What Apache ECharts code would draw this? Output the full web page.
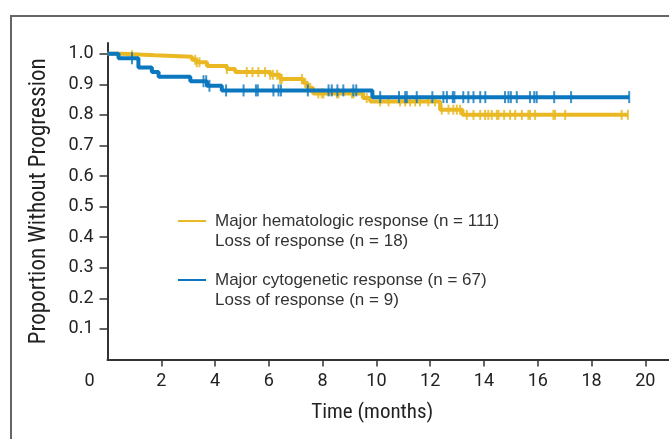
<!DOCTYPE html>
<html>
<head>
<meta charset="utf-8">
<script src="https://cdn.jsdelivr.net/npm/echarts@6/dist/echarts.min.js"></script>
<style>
html,body{margin:0;padding:0;background:#fff;}
#chart{width:669px;height:439px;}
</style>
</head>
<body>
<div id="chart"></div>
<script>
// Major hematologic response (n = 111): KM step curve
const hemaTimes = [0, 0.55, 1.77, 3.14, 3.32, 3.7, 4.44, 4.75, 6.05, 6.42, 7.27, 7.43, 7.65, 9.5, 9.77, 12.37, 13.2, 19.36];
const hemaProps = [1.0, 0.995, 0.99, 0.98, 0.972, 0.96, 0.95, 0.94, 0.931, 0.917, 0.905, 0.888, 0.87, 0.855, 0.844, 0.817, 0.80, 0.80];
const hemaCensor = [0.91, 3.26, 3.32, 3.42, 4.44, 5.18, 5.39, 5.61, 5.86, 6.05, 6.15, 6.31, 6.42, 6.48, 7.23, 7.35, 7.54, 7.84, 7.97, 8.03, 8.53, 8.59, 9.09, 9.15, 9.64, 10.14, 10.45, 10.88, 11.07, 11.25, 11.44, 11.62, 11.93, 12.18, 12.43, 12.68, 12.86, 12.99, 13.11, 13.36, 13.61, 13.86, 14.04, 14.16, 14.29, 14.48, 14.54, 14.75, 14.97, 15.16, 15.41, 15.65, 15.71, 15.9, 16.58, 16.64, 17.02, 19.12, 19.35];

// Major cytogenetic response (n = 67)
const cytoTimes = [0, 0.41, 1.15, 1.65, 1.9, 3.08, 3.7, 4.25, 9.85, 19.4];
const cytoProps = [1.0, 0.985, 0.955, 0.94, 0.925, 0.91, 0.895, 0.88, 0.858, 0.858];
const cytoCensor = [0.91, 3.57, 3.67, 3.79, 4.41, 5.06, 5.52, 5.59, 6.17, 6.36, 6.45, 7.45, 8.22, 8.34, 8.55, 8.77, 9.14, 9.25, 10.14, 10.84, 11.07, 11.13, 11.5, 12.08, 12.49, 12.62, 12.84, 12.9, 13.23, 13.42, 13.61, 13.86, 14.05, 14.78, 14.91, 15.0, 15.22, 15.71, 15.87, 15.96, 16.61, 17.24, 19.4];

const xTicks = [0, 2, 4, 6, 8, 10, 12, 14, 16, 18, 20];
const yTicks = [0.1, 0.2, 0.3, 0.4, 0.5, 0.6, 0.7, 0.8, 0.9, 1.0];

const legendLines = [
  ['Major hematologic response (n = 111)', 'Loss of response (n = 18)'],
  ['Major cytogenetic response (n = 67)', 'Loss of response (n = 9)']
];

const YELLOW = '#E9B823';
const BLUE = '#0A77BE';

function pairs(T, P) { return T.map((t, i) => [t, P[i]]); }
function lookup(T, P, t) {
  let v = P[0];
  for (let i = 0; i < T.length; i++) { if (T[i] <= t + 1e-9) v = P[i]; }
  return v;
}
function censorPts(C, T, P) { return C.map(t => [t, lookup(T, P, t)]); }

const CFONT = '"Roboto Condensed", "Liberation Sans Narrow", Roboto, sans-serif';
const TFONT = 'Roboto, sans-serif';
const LFONT = '"Liberation Sans", Arial, sans-serif';

const chart = echarts.init(document.getElementById('chart'), null, {renderer: 'canvas'});
chart.setOption({
  animation: false,
  backgroundColor: '#fff',
  grid: {left: 107.5, right: 0, top: 43, bottom: 79.5, containLabel: false},
  xAxis: {
    type: 'value', min: 0, max: 20.88,
    axisLine: {show: true, lineStyle: {color: '#333', width: 2}},
    axisTick: {show: true, length: 7, lineStyle: {color: '#333', width: 1.5}, customValues: xTicks.slice(1)},
    axisLabel: {
      color: '#222', fontSize: 18, fontFamily: TFONT, margin: 13,
      customValues: xTicks,
      formatter: v => v === 0 ? '{z|0}' : String(v),
      rich: {z: {fontSize: 18, fontFamily: TFONT, color: '#222', padding: [0, 36, 0, 0]}}
    },
    splitLine: {show: false},
    name: 'Time (months)', nameLocation: 'middle', nameGap: 43,
    nameTextStyle: {color: '#222', fontSize: 21, fontFamily: CFONT, padding: [0, 32, 0, 0]}
  },
  yAxis: {
    type: 'value', min: 0, max: 1.035,
    axisLine: {show: true, lineStyle: {color: '#333', width: 2}},
    axisTick: {show: true, length: 8, lineStyle: {color: '#333', width: 1.5}, customValues: yTicks},
    axisLabel: {
      color: '#222', fontSize: 18, fontFamily: TFONT, margin: 14,
      customValues: yTicks, formatter: v => v.toFixed(1)
    },
    splitLine: {show: false},
    name: 'Proportion Without Progression', nameLocation: 'middle', nameGap: 57,
    nameTextStyle: {color: '#222', fontSize: 23, fontFamily: CFONT}
  },
  graphic: [
    {type: 'rect', shape: {x: 11, y: 16, width: 800, height: 600}, style: {fill: 'none', stroke: '#666', lineWidth: 2}, silent: true},
    {type: 'line', shape: {x1: 178, y1: 221, x2: 206, y2: 221}, style: {stroke: YELLOW, lineWidth: 2}},
    {type: 'text', x: 215, y: 221, style: {text: legendLines[0][0], fill: '#333', font: '17px ' + LFONT, verticalAlign: 'middle'}},
    {type: 'text', x: 215, y: 241.5, style: {text: legendLines[0][1], fill: '#333', font: '17px ' + LFONT, verticalAlign: 'middle'}},
    {type: 'line', shape: {x1: 178, y1: 280, x2: 206, y2: 280}, style: {stroke: BLUE, lineWidth: 2}},
    {type: 'text', x: 215, y: 280, style: {text: legendLines[1][0], fill: '#333', font: '17px ' + LFONT, verticalAlign: 'middle'}},
    {type: 'text', x: 215, y: 300, style: {text: legendLines[1][1], fill: '#333', font: '17px ' + LFONT, verticalAlign: 'middle'}}
  ],
  series: [
    {type: 'line', name: 'Major hematologic response', step: 'end', data: pairs(hemaTimes, hemaProps),
     showSymbol: false, lineStyle: {color: YELLOW, width: 4}, z: 2},
    {type: 'scatter', data: censorPts(hemaCensor, hemaTimes, hemaProps), symbol: 'rect', symbolSize: [2, 10],
     itemStyle: {color: YELLOW, opacity: 0.85}, z: 3},
    {type: 'line', name: 'Major cytogenetic response', step: 'end', data: pairs(cytoTimes, cytoProps),
     showSymbol: false, lineStyle: {color: BLUE, width: 4}, z: 4},
    {type: 'scatter', data: censorPts(cytoCensor, cytoTimes, cytoProps), symbol: 'rect', symbolSize: [2, 12],
     itemStyle: {color: BLUE}, z: 5}
  ]
});
</script>
</body>
</html>
